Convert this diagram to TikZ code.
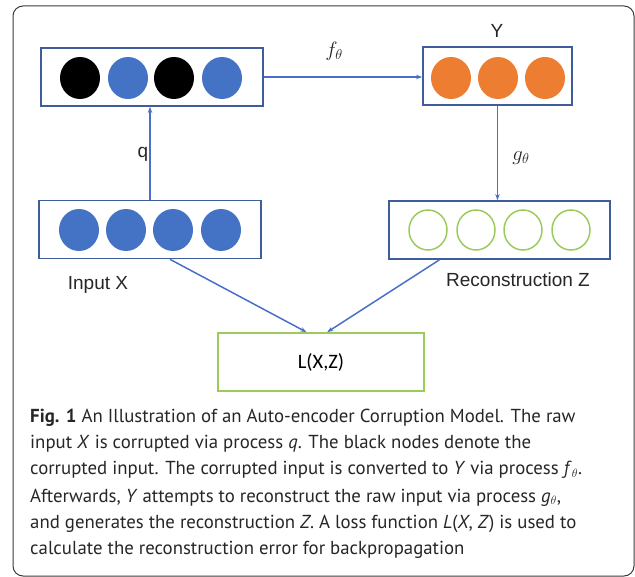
\documentclass[tikz,border=0pt]{standalone}
\usepackage{fontspec}
\setmainfont{Liberation Sans}
\newfontfamily\capfont{PT Sans}
\newfontfamily\lossfont{Carlito}
\usetikzlibrary{shapes.geometric,calc,arrows.meta}

\definecolor{boxblue}{HTML}{3F5C9C}
\definecolor{dotblue}{HTML}{4472C4}
\definecolor{dotorange}{HTML}{ED7D31}
\definecolor{dotgreen}{HTML}{9CCB5C}
\definecolor{linkblue}{HTML}{4A6FC9}
\definecolor{framegray}{HTML}{3A3A3A}

\tikzset{
  layer/.style={draw=boxblue, line width=1.8pt, minimum height=58pt, inner sep=0pt},
  lossbox/.style={draw=dotgreen, line width=1.8pt, minimum width=206pt, minimum height=58pt, inner sep=0pt},
  unit/.style={ellipse, minimum width=40pt, minimum height=42pt, inner sep=0pt},
  dotblack/.style={unit, fill=black},
  dotbl/.style={unit, fill=dotblue},
  dotor/.style={unit, fill=dotorange},
  dotgr/.style={unit, draw=dotgreen, line width=1.5pt, minimum width=38pt, minimum height=40pt},
  link/.style={draw=linkblue, line width=1.5pt, -{Stealth[length=6pt,width=4.5pt]}},
  lbl/.style={font=\fontsize{19}{22}\selectfont, text=black!85, inner sep=0pt},
  mlbl/.style={font=\fontsize{20}{22}\selectfont, text=black!85, inner sep=0pt},
  capline/.style={anchor=base west, inner sep=0pt, font=\capfont\fontsize{18.8}{22}\selectfont, text=black!85}
}

\begin{document}
\begin{tikzpicture}[x=1pt, y=-1pt]
  \useasboundingbox (0,0) rectangle (635,577);
  % outer frame of the figure
  \draw[framegray, line width=1pt, rounded corners=10pt] (13,6) rectangle (634,576);

  % layer boxes
  \node[layer, minimum width=222pt] (cor) at (152,77) {};
  \node[layer, minimum width=149pt] (hid) at (497.5,76) {};
  \node[layer, minimum width=222pt] (inp) at (150,229.5) {};
  \node[layer, minimum width=221pt] (rec) at (499.5,230) {};
  \node[lossbox] (loss) at (321,362) {\lossfont\fontsize{20.5}{22}\selectfont L(X,Z)};

  % corrupted input units
  \node[dotblack] (c1) at (80,78) {};
  \node[dotbl]    (c2) at (128,78) {};
  \node[dotblack] (c3) at (174,78) {};
  \node[dotbl]    (c4) at (222,78) {};

  % hidden units
  \node[dotor] (h1) at (451,78) {};
  \node[dotor] (h2) at (498,78) {};
  \node[dotor] (h3) at (545,78) {};

  % raw input units
  \node[dotbl] (i1) at (79,230) {};
  \node[dotbl] (i2) at (126,230) {};
  \node[dotbl] (i3) at (173,230) {};
  \node[dotbl] (i4) at (221,230) {};

  % reconstructed units
  \node[dotgr] (r1) at (428,230) {};
  \node[dotgr] (r2) at (476,230) {};
  \node[dotgr] (r3) at (523,230) {};
  \node[dotgr] (r4) at (571,230) {};

  % labels
  \node[lbl] (ylab) at (497,31) {Y};
  \node[lbl] (qlab) at (143,154) {q};
  \node[lbl] (inlab) at (98,285) {Input X};
  \node[lbl] (reclab) at (518,280) {Reconstruction Z};
  \node[mlbl] (flab) at (334,51) {$f_\theta$};
  \node[mlbl] (glab) at (521,158) {$g_\theta$};

  % connectors
  \draw[link] (inp.north) -- (inp.north |- cor.south);
  \draw[link] (cor.east) -- (cor.east -| hid.west);
  \draw[link] (hid.south) -- (hid.south |- rec.north);
  \coordinate (inpout) at ($(inp.south west)!0.59!(inp.south east)$);
  \coordinate (recout) at ($(rec.south west)!0.23!(rec.south east)$);
  \draw[link] (inpout) -- ($(loss.north west)!0.43!(loss.north east)$);
  \draw[link] (recout) -- ($(loss.north west)!0.53!(loss.north east)$);

  % caption
  \node[capline] (cap1) at (30,422) {\textbf{Fig. 1} An Illustration of an Auto-encoder Corruption Model. The raw};
  \node[capline] (cap2) at (30,448) {input \textit{X} is corrupted via process \textit{q}. The black nodes denote the};
  \node[capline] (cap3) at (30,475) {corrupted input. The corrupted input is converted to \textit{Y} via process \textit{f}$_\theta$.};
  \node[capline] (cap4) at (30,502) {Afterwards, \textit{Y} attempts to reconstruct the raw input via process \textit{g}$_\theta$,};
  \node[capline] (cap5) at (30,528) {and generates the reconstruction \textit{Z}. A loss function \textit{L}(\textit{X}, \textit{Z}) is used to};
  \node[capline] (cap6) at (30,554) {calculate the reconstruction error for backpropagation};
\end{tikzpicture}
\end{document}
